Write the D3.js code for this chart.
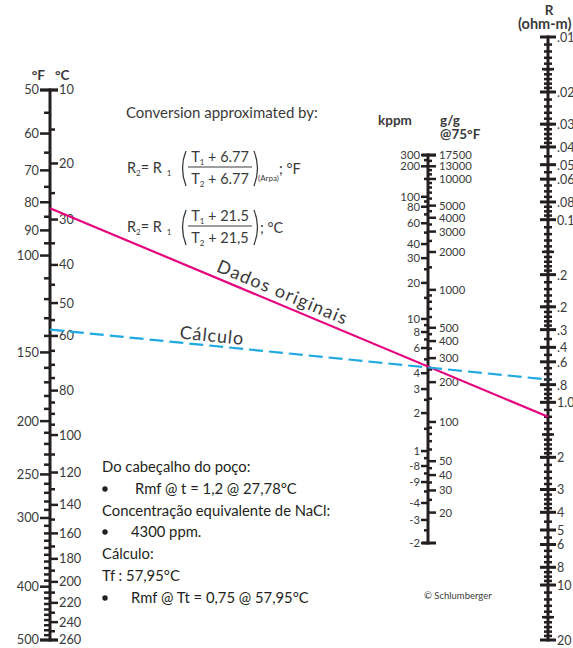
<!DOCTYPE html>
<html><head><meta charset="utf-8">
<script src="https://cdn.jsdelivr.net/npm/d3@7"></script>
<style>
html,body{margin:0;padding:0;background:#fff;}
svg{display:block;font-family:Lato,"Open Sans",sans-serif;}
</style></head><body>
<svg id="chart" width="573" height="648"></svg>
<script>
// Temperature scale labels
const fahrenheitLabels = [50,60,70,80,90,100,150,200,250,300,400,500];
const celsiusLabels = [10,20,30,40,50,60,80,100,120,140,160,180,200,220,240,260];

// NaCl concentration (kppm) and its resistivity at 75°F (ohm-m)
const naclKppm = [300,200,100,80,60,40,30,20,10,8,6,4,3,2,1,0.8,0.6,0.4,0.3,0.2];
const naclR75  = [0.039,0.047,0.078,0.092,0.121,0.171,0.216,0.326,0.593,0.737,0.961,1.46,1.90,2.83,5.32,6.82,8.90,12.6,16.7,24.5];
const kppmLabelText = ["300","200","100","80","60","40","30","20","10","8","6","4","3","2","1","-8","-9","-4","-3","-2"];
const kppmMinor = [250,150,90,70,50,25,15,9,7,5,2.5,1.5,0.9,0.7,0.5,0.25];

// Right-hand side of the concentration scale (grains/gal) and the kppm each equals
const grainsLabels = [17500,13000,10000,5000,4000,3000,2000,1000,500,400,300,200,100,50,40,30,20];
const grainsKppm   = [300,200,150,82,66,51,34,17.5,8.6,6.8,5.1,3.4,1.7,0.86,0.68,0.51,0.34];
const grainsMinor = [15000,12000,11000,9000,8000,7000,6000,4500,3500,2500,1500,900,800,700,600,450,350,250,150,90,80,70,60,45,35,25];

// Resistivity scale labels
const resistivityValues = [0.01,0.02,0.03,0.04,0.05,0.06,0.08,0.1,0.2,0.3,0.4,0.5,0.6,0.8,1,2,3,4,5,6,8,10,20];
const resistivityText = [".01",".02",".03",".04",".05",".06",".08","0.1",".2",".2",".3",".4",".6",".8","1.0","2","3","4","5","6","8","10","20"];

// Worked example: temperature (°C) and resistivity (ohm-m) joined by each line
const lineNames = ["Dados originais","Cálculo"];
const lineTempC = [27.78, 57.95];
const lineRes = [1.2, 0.75];
const lineColors = ["#e6007e","#1ea9e1"];

const svg = d3.select("#chart");
const ink = "#231f20", txt = "#3a3a3a";

// Axis positions
const xT = 50, xC = 428, xR = 548;
const yT = d3.scaleLog().domain([50,500]).range([90,640]);          // °F
const yR = d3.scaleLog().domain([0.01,20]).range([37,640]);          // ohm-m
const toF = c => c*9/5 + 32;
const logR75 = d3.scaleLog().domain(naclKppm).range(naclR75.map(Math.log10));
const w = (xC - xT)/(xR - xT);
// concentration scale: point on the middle line between 75°F and R at 75°F
const yC = k => (1-w)*yT(75) + w*yR(Math.pow(10, logR75(k)));
const grainsLog = d3.scaleLog().domain(grainsLabels).range(grainsKppm.map(Math.log10));
const yG = g => yC(Math.pow(10, grainsLog(g)));

function seg(g, x1, y1, x2, y2, sw){
  g.append("line").attr("x1",x1).attr("y1",y1).attr("x2",x2).attr("y2",y2)
   .attr("stroke",ink).attr("stroke-width",sw);
}

// ---------- Temperature scale ----------
const gT = svg.append("g");
seg(gT, xT, yT(50)-1.5, xT, yT(500)+1.5, 3);
seg(gT, xT-10, yT(50), xT+8, yT(50), 3);
seg(gT, xT-10, yT(500), xT+8, yT(500), 3);
const fMinor = d3.range(55,100,5).concat(d3.range(110,500,10)).filter(v => !fahrenheitLabels.includes(v));
fMinor.forEach(v => seg(gT, xT-6, yT(v), xT, yT(v), 2.5));
fahrenheitLabels.forEach(v => seg(gT, xT-10, yT(v), xT, yT(v), 2.5));
const cMinor = d3.range(15,100,5).concat(d3.range(110,260,10)).filter(v => !celsiusLabels.includes(v));
cMinor.forEach(v => seg(gT, xT, yT(toF(v)), xT+5, yT(toF(v)), 2.5));
celsiusLabels.forEach(v => seg(gT, xT, yT(toF(v)), xT+8, yT(toF(v)), 2.5));
gT.selectAll("text.f").data(fahrenheitLabels).join("text")
  .attr("x", xT-11).attr("y", d => yT(d)).attr("dy","0.35em")
  .attr("text-anchor","end").attr("font-size",12.8).attr("fill",txt).text(d => d);
gT.selectAll("text.c").data(celsiusLabels).join("text")
  .attr("x", xT+9).attr("y", d => yT(toF(d))).attr("dy","0.35em")
  .attr("font-size",12.8).attr("fill",txt).text(d => d);
svg.append("text").attr("x",45).attr("y",80).attr("text-anchor","end")
  .attr("font-size",13.5).attr("font-weight","bold").attr("fill",txt).text("°F");
svg.append("text").attr("x",55).attr("y",80)
  .attr("font-size",13.5).attr("font-weight","bold").attr("fill",txt).text("°C");

// ---------- Concentration scale ----------
const gC = svg.append("g");
const cTop = yC(300), cBot = yC(0.2);
seg(gC, xC, cTop-1.5, xC, cBot+1.5, 3);
seg(gC, xC-6, cTop, xC+8, cTop, 3);
seg(gC, xC-6, cBot, xC+8, cBot, 3);
kppmMinor.forEach(k => seg(gC, xC-4, yC(k), xC, yC(k), 2.5));
naclKppm.forEach(k => seg(gC, xC-7, yC(k), xC, yC(k), 2.5));
grainsMinor.forEach(g => seg(gC, xC, yG(g), xC+4, yG(g), 2.5));
grainsLabels.forEach(g => seg(gC, xC, yG(g), xC+8, yG(g), 2.5));
gC.selectAll("text.k").data(naclKppm).join("text")
  .attr("x", xC-8).attr("y", d => yC(d)).attr("dy","0.35em")
  .attr("text-anchor","end").attr("font-size",11.3).attr("fill",txt)
  .text((d,i) => kppmLabelText[i]);
gC.selectAll("text.g").data(grainsLabels).join("text")
  .attr("x", xC+11).attr("y", d => yG(d)).attr("dy","0.35em")
  .attr("font-size",11.3).attr("fill",txt).text(d => d);
svg.append("text").attr("x",378).attr("y",125)
  .attr("font-size",13.5).attr("font-weight","bold").attr("fill",txt).text("kppm");
svg.append("text").attr("x",440).attr("y",125)
  .attr("font-size",13.5).attr("font-weight","bold").attr("fill",txt).text("g/g");
svg.append("text").attr("x",440).attr("y",139)
  .attr("font-size",13.5).attr("font-weight","bold").attr("fill",txt).text("@75°F");

// ---------- Resistivity scale ----------
const gR = svg.append("g");
seg(gR, xR, yR(0.01)-1.5, xR, yR(20)+1.5, 3);
const rMinor = [];
[0.01,0.1,1,10].forEach(dec => {
  const steps = d3.range(1.1,2,0.1).concat(d3.range(2.2,4,0.2), [4.5,5.5,6.5,7,7.5,8.5,9,9.5]);
  steps.forEach(s => { const v = +(s*dec).toPrecision(3); if (v < 20) rMinor.push(v); });
});
rMinor.forEach(v => seg(gR, xR-4, yR(v), xR+4, yR(v), 2.5));
[0.015,0.15,1.5,15].forEach(v => seg(gR, xR-6, yR(v), xR+6, yR(v), 2.5));
resistivityValues.forEach(v => seg(gR, xR-8, yR(v), xR+8, yR(v), 3));
gR.selectAll("text.r").data(resistivityValues).join("text")
  .attr("x", xR+9).attr("y", d => yR(d)).attr("dy","0.4em")
  .attr("font-size",12.5).attr("fill",txt).text((d,i) => resistivityText[i]);
svg.append("text").attr("x",549).attr("y",15).attr("text-anchor","middle")
  .attr("font-size",13.5).attr("font-weight","bold").attr("fill",txt).text("R");
svg.append("text").attr("x",518).attr("y",29)
  .attr("font-size",14.5).attr("font-weight","bold").attr("fill",txt).text("(ohm-m)");

// ---------- Example lines ----------
lineNames.forEach((name,i) => {
  const y1 = yT(toF(lineTempC[i])), y2 = yR(lineRes[i]);
  svg.append("line").attr("x1",xT).attr("y1",y1).attr("x2",xR).attr("y2",y2)
    .attr("stroke",lineColors[i]).attr("stroke-width",2.2)
    .attr("stroke-dasharray", i === 1 ? "14,6" : null);
});
function lineLabel(i, xMid, offset, size, spacing){
  const y1 = yT(toF(lineTempC[i])), y2 = yR(lineRes[i]);
  const slope = (y2-y1)/(xR-xT);
  const ang = Math.atan(slope);
  const yMid = y1 + slope*(xMid-xT);
  const px = xMid + offset*Math.sin(ang), py = yMid - offset*Math.cos(ang);
  svg.append("text").attr("transform",`translate(${px},${py}) rotate(${ang*180/Math.PI})`)
    .attr("text-anchor","middle").attr("font-size",size).attr("letter-spacing",spacing)
    .attr("fill",txt).text(lineNames[i]);
}
lineLabel(0, 278, 6, 18, 1.3);
lineLabel(1, 211, 4, 18, 0.9);

// ---------- Conversion formulas ----------
svg.append("text").attr("x",126).attr("y",118).attr("font-size",15).attr("fill",txt)
  .text("Conversion approximated by:");
function formula(y0, constTop, constBot, tail, note){
  const g = svg.append("g").attr("fill",txt).attr("font-size",14.5);
  const t = g.append("text").attr("x",127).attr("y",y0+5);
  t.append("tspan").text("R");
  t.append("tspan").attr("font-size",8).attr("dy",3).text("2");
  t.append("tspan").attr("dy",-3).text("= R ");
  t.append("tspan").attr("font-size",8).attr("dy",3).attr("dx",1).text("1");
  const num = g.append("text").attr("x",220).attr("y",y0-6).attr("text-anchor","middle");
  num.append("tspan").text("T");
  num.append("tspan").attr("font-size",8).attr("dy",3).text("1");
  num.append("tspan").attr("dy",-3).text(" + " + constTop);
  const den = g.append("text").attr("x",220).attr("y",y0+16).attr("text-anchor","middle");
  den.append("tspan").text("T");
  den.append("tspan").attr("font-size",8).attr("dy",3).text("2");
  den.append("tspan").attr("dy",-3).text(" + " + constBot);
  g.append("line").attr("x1",188).attr("x2",252).attr("y1",y0-1).attr("y2",y0-1)
    .attr("stroke",txt).attr("stroke-width",1);
  g.append("path").attr("d",`M186,${y0-17} Q179,${y0} 186,${y0+18}`)
    .attr("fill","none").attr("stroke",txt).attr("stroke-width",1.3);
  g.append("path").attr("d",`M254,${y0-17} Q261,${y0} 254,${y0+18}`)
    .attr("fill","none").attr("stroke",txt).attr("stroke-width",1.3);
  if (note) g.append("text").attr("x",258).attr("y",y0+13).attr("font-size",8).text(note);
  g.append("text").attr("x", note ? 279 : 260).attr("y",y0+6).text(tail);
}
formula(168, "6.77", "6.77", "; °F", "(Arpa)");
formula(227, "21.5", "21,5", "; °C", null);

// ---------- Worked example notes ----------
const notes = [
  {t:"Do cabeçalho do poço:", x:102, y:472},
  {t:"Rmf @ t = 1,2 @ 27,78°C", x:135, y:494, b:true},
  {t:"Concentração equivalente de NaCl:", x:102, y:516},
  {t:"4300 ppm.", x:131, y:537, b:true},
  {t:"Cálculo:", x:102, y:559},
  {t:"Tf : 57,95°C", x:102, y:581},
  {t:"Rmf @ Tt = 0,75 @ 57,95°C", x:131, y:603, b:true}
];
notes.forEach(n => {
  svg.append("text").attr("x",n.x).attr("y",n.y).attr("font-size",14.8).attr("fill",ink).text(n.t);
  if (n.b) svg.append("circle").attr("cx",105).attr("cy",n.y-5).attr("r",2.7).attr("fill",ink);
});
svg.append("text").attr("x",424).attr("y",599).attr("font-size",9.5).attr("fill",txt).text("© Schlumberger");
</script>
</body></html>
